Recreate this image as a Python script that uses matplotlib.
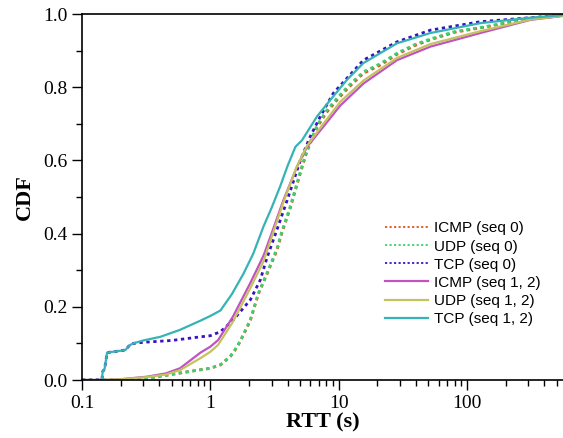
import numpy as np
import matplotlib
matplotlib.use("Agg")
import matplotlib.pyplot as plt
from matplotlib.ticker import LogLocator, FixedLocator, MultipleLocator

# RTT (s) / CDF pairs
icmp0_x = [0.1, 0.15, 0.25, 0.32, 0.58, 0.84, 1.0, 1.2, 1.43, 1.55, 1.71, 2.05, 2.37, 2.77, 3.31,
           3.6, 4.2, 5.03, 5.67, 6.78, 8.0, 9.7, 12, 15.6, 21, 28.5, 40, 52, 80, 127, 200, 312, 560]
icmp0_y = [0, 0, 0.001, 0.004, 0.019, 0.028, 0.032, 0.041, 0.064, 0.08, 0.105, 0.162, 0.235, 0.29, 0.355,
           0.40, 0.47, 0.565, 0.625, 0.69, 0.73, 0.765, 0.80, 0.838, 0.86, 0.89, 0.915, 0.93, 0.95, 0.962,
           0.975, 0.986, 0.996]
udp0_x = icmp0_x
udp0_y = [0, 0, 0.001, 0.004, 0.019, 0.028, 0.032, 0.042, 0.065, 0.082, 0.107, 0.165, 0.238, 0.293, 0.36,
          0.405, 0.475, 0.57, 0.63, 0.695, 0.735, 0.77, 0.805, 0.842, 0.864, 0.893, 0.918, 0.932, 0.952,
          0.963, 0.976, 0.987, 0.996]

tcp0_x = [0.1, 0.143, 0.145, 0.15, 0.157, 0.2, 0.218, 0.235, 0.251, 0.3, 0.5, 0.84, 1.0, 1.2, 1.51,
          2.05, 2.45, 2.77, 3.3, 3.96, 5.03, 6.0, 7.2, 9.1, 15.6, 28.5, 52, 127, 312, 560]
tcp0_y = [0, 0, 0.023, 0.03, 0.075, 0.08, 0.082, 0.095, 0.10, 0.103, 0.108, 0.118, 0.121, 0.132, 0.164,
          0.219, 0.273, 0.335, 0.41, 0.49, 0.60, 0.665, 0.72, 0.784, 0.874, 0.924, 0.956, 0.979, 0.99, 0.997]

seq12_x = [0.1, 0.14, 0.2, 0.32, 0.45, 0.58, 0.84, 1.0, 1.15, 1.5, 2.05, 2.6, 3.0, 3.7, 4.74, 5.67,
           7.6, 10.3, 15.6, 28.5, 52, 127, 312, 560]
icmp12_y = [0, 0, 0.002, 0.009, 0.018, 0.032, 0.075, 0.091, 0.109, 0.173, 0.265, 0.34, 0.40, 0.49,
            0.583, 0.637, 0.692, 0.75, 0.81, 0.874, 0.911, 0.948, 0.984, 0.995]
udp12_y = [0, 0, 0.002, 0.008, 0.015, 0.027, 0.060, 0.077, 0.096, 0.159, 0.251, 0.325, 0.39, 0.485,
           0.585, 0.64, 0.70, 0.76, 0.818, 0.88, 0.918, 0.953, 0.985, 0.995]

tcp12_x = [0.1, 0.143, 0.145, 0.15, 0.157, 0.2, 0.218, 0.235, 0.251, 0.3, 0.408, 0.58, 0.836, 1.0,
           1.2, 1.475, 1.81, 2.16, 2.6, 3.0, 3.51, 4.0, 4.6, 5.18, 6.78, 8.6, 11.6, 15.6, 28.5, 51.8,
           127, 312, 560]
tcp12_y = [0, 0, 0.023, 0.03, 0.075, 0.08, 0.082, 0.095, 0.10, 0.108, 0.118, 0.137, 0.162, 0.175,
           0.19, 0.235, 0.29, 0.345, 0.42, 0.47, 0.53, 0.585, 0.637, 0.655, 0.72, 0.765, 0.82, 0.866,
           0.92, 0.948, 0.975, 0.99, 0.997]

labels = ["ICMP (seq 0)", "UDP (seq 0)", "TCP (seq 0)", "ICMP (seq 1, 2)", "UDP (seq 1, 2)", "TCP (seq 1, 2)"]
colors = ["#e0531c", "#3fcf6e", "#3a12c0", "#c052c4", "#c4c25e", "#35b3b6"]

plt.rcParams['font.family'] = 'Liberation Serif'

fig = plt.figure(figsize=(5.63, 4.38), dpi=100)
ax = fig.add_axes([0.1456, 0.1324, 0.8544, 0.8356])

dot = (0, (1.2, 1.3))
series = [(icmp0_x, icmp0_y, dot), (udp0_x, udp0_y, dot), (tcp0_x, tcp0_y, dot),
          (seq12_x, icmp12_y, '-'), (seq12_x, udp12_y, '-'), (tcp12_x, tcp12_y, '-')]
for (xs, ys, ls), c, lab in zip(series, colors, labels):
    ax.plot(xs, ys, linestyle=ls, color=c, lw=2.0 if ls == dot else 1.6, label=lab)

ax.set_xscale('log')
ax.set_xlim(0.1, 560)
ax.set_ylim(0, 1.0)
ax.yaxis.set_major_locator(MultipleLocator(0.2))
ax.yaxis.set_minor_locator(MultipleLocator(0.1))
ax.xaxis.set_major_locator(FixedLocator([0.1, 1, 10, 100]))
ax.xaxis.set_minor_locator(LogLocator(base=10, subs=np.arange(2, 10)))
ax.set_xticklabels(["0.1", "1", "10", "100"])
ax.set_yticks([0, 0.2, 0.4, 0.6, 0.8, 1.0])
ax.set_yticklabels(["0.0", "0.2", "0.4", "0.6", "0.8", "1.0"])
ax.tick_params(which='major', direction='out', length=7, width=1, labelsize=14)
ax.tick_params(which='minor', direction='out', length=4, width=1)
ax.spines['right'].set_visible(False)
for s in ['top', 'left', 'bottom']:
    ax.spines[s].set_linewidth(1.2)

ax.set_xlabel("RTT (s)", fontsize=16, fontweight='bold', labelpad=1)
ax.set_ylabel("CDF", fontsize=16, fontweight='bold', labelpad=6)

leg = ax.legend(loc='upper left', bbox_to_anchor=(0.617, 0.45), frameon=False,
                prop={'family': 'Liberation Sans', 'size': 11}, handlelength=2.8,
                labelspacing=0.27, handletextpad=0.4, borderaxespad=0)
for h in leg.get_lines()[:3]:
    h.set_linewidth(1.3)

fig.savefig("out.png", dpi=100)
